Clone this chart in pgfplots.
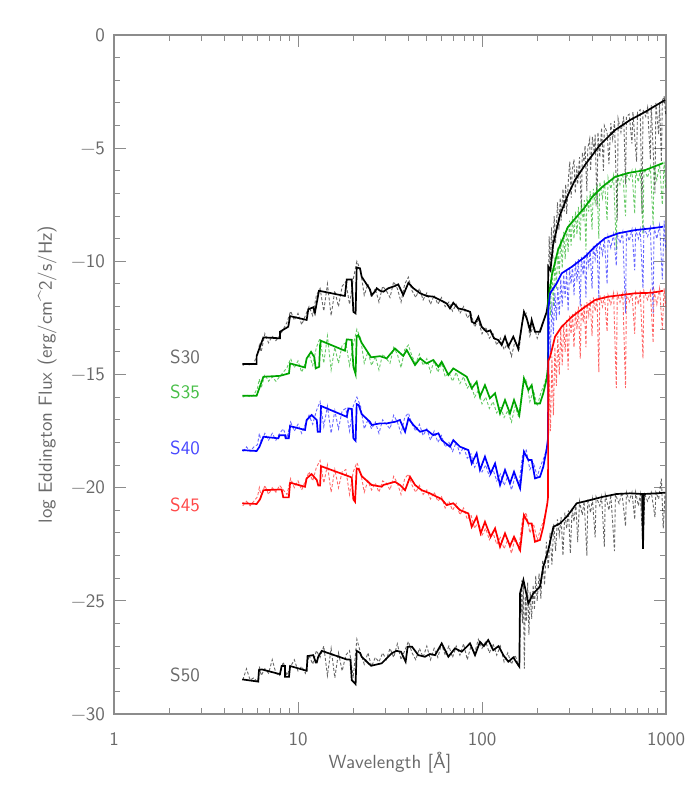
\documentclass[border=0pt]{standalone}
\usepackage{fontspec}
\usepackage{pgfplots}
\pgfplotsset{compat=1.18}
\definecolor{axisgray}{RGB}{140,140,140}
\definecolor{textgray}{RGB}{105,105,105}
\definecolor{mygreen}{RGB}{0,165,0}
\definecolor{myblue}{RGB}{0,0,255}
\definecolor{myred}{RGB}{255,0,0}
\definecolor{lgreen}{RGB}{70,190,70}
\definecolor{lblue}{RGB}{70,70,255}
\definecolor{lred}{RGB}{255,70,70}
\begin{document}
\begin{tikzpicture}
\useasboundingbox (-57pt,-36pt) rectangle (293pt,357pt);
\begin{axis}[
  at={(0,0)}, anchor=south west,
  scale only axis, width=276pt, height=339.5pt,
  xmin=0, xmax=3, ymin=-30, ymax=0,
  xtick={0,1,2,3}, xticklabels={1,10,100,1000},
  minor xtick={0.301,0.477,0.602,0.699,0.778,0.845,0.903,0.954,1.301,1.477,1.602,1.699,1.778,1.845,1.903,1.954,2.301,2.477,2.602,2.699,2.778,2.845,2.903,2.954},
  ytick={-30,-25,-20,-15,-10,-5,0},
  yticklabels={−30,−25,−20,−15,−10,−5,0},
  minor ytick={-29,-28,-27,-26,-24,-23,-22,-21,-19,-18,-17,-16,-14,-13,-12,-11,-9,-8,-7,-6,-4,-3,-2,-1},
  tick align=inside,
  major tick length=6pt, minor tick length=3pt,
  axis line style={draw=axisgray, line width=0.6pt},
  every tick/.style={axisgray, line width=0.5pt},
  ticklabel style={font=\sffamily\fontsize{9.5}{11}\selectfont, text=textgray},
  xticklabel style={yshift=-6pt},
  yticklabel style={xshift=-1pt},
  every axis x label/.style={at={(axis description cs:0.5,-0.072)}, anchor=center, font=\sffamily\fontsize{9.5}{11}\selectfont, text=textgray},
  every axis y label/.style={at={(axis description cs:-0.121,0.5)}, rotate=90, anchor=center, font=\sffamily\fontsize{9.5}{11}\selectfont, text=textgray},
  xlabel={Wavelength [Å]},
  ylabel={log Eddington Flux (erg/cm\textasciicircum 2/s/Hz)},
  solidl/.style={line width=0.85pt},
  dsh/.style={line width=0.45pt, dash pattern=on 1.5pt off 1pt, opacity=0.6},
]
% ---------- S30 ----------
\addplot[dsh, black] coordinates {(0.70,-14.6)(0.72,-14.5)(0.74,-14.6)(0.76,-14.5)(0.78,-14.1)(0.79,-13.7)(0.80,-14.0)(0.82,-13.2)(0.84,-13.6)(0.86,-13.3)(0.88,-13.5)(0.90,-13.3)(0.92,-13.0)(0.94,-12.7)(0.96,-12.2)(0.98,-12.6)(1.00,-12.3)(1.02,-12.8)(1.04,-12.4)(1.06,-12.0)(1.08,-12.4)(1.10,-11.5)(1.12,-11.2)(1.14,-12.2)(1.16,-11.0)(1.18,-12.4)(1.20,-11.3)(1.22,-12.0)(1.24,-11.1)(1.26,-10.9)(1.28,-11.9)(1.30,-10.8)(1.32,-10.0)(1.34,-10.4)(1.36,-11.5)(1.38,-11.0)(1.40,-11.6)(1.42,-11.2)(1.44,-11.8)(1.46,-11.1)(1.48,-11.3)(1.50,-11.6)(1.52,-10.9)(1.54,-11.2)(1.56,-11.8)(1.58,-11.0)(1.60,-10.7)(1.62,-11.3)(1.64,-11.6)(1.66,-11.2)(1.68,-11.7)(1.70,-11.4)(1.72,-11.9)(1.74,-11.5)(1.76,-11.9)(1.78,-11.6)(1.80,-12.0)(1.82,-11.8)(1.84,-12.2)(1.86,-11.9)(1.88,-12.3)(1.90,-12.0)(1.92,-12.5)(1.94,-12.3)(1.96,-12.9)(1.98,-12.6)(2.00,-13.2)(2.02,-12.9)(2.04,-13.4)(2.06,-13.2)(2.08,-13.7)(2.10,-13.4)(2.12,-13.9)(2.14,-13.6)(2.16,-14.2)(2.18,-13.5)(2.20,-14.0)(2.22,-12.6)(2.24,-12.3)(2.26,-13.3)(2.28,-12.8)(2.30,-13.4)(2.32,-12.9)(2.34,-12.5)(2.355,-12.0)};
\addplot[dsh, black] coordinates {(2.360,-11.8)(2.365,-8.9)(2.370,-10.4)(2.378,-8.5)(2.385,-9.9)(2.392,-8.0)(2.40,-9.2)(2.41,-7.4)(2.418,-8.6)(2.425,-7.2)(2.43,-8.2)(2.44,-6.8)(2.447,-7.8)(2.455,-6.6)(2.46,-7.9)(2.47,-6.3)(2.477,-5.6)(2.485,-7.2)(2.49,-6.0)(2.50,-5.5)(2.507,-7.0)(2.515,-5.8)(2.52,-6.6)(2.53,-5.4)(2.54,-7.8)(2.545,-5.2)(2.555,-5.6)(2.56,-4.9)(2.57,-6.9)(2.575,-5.0)(2.585,-4.6)(2.59,-6.0)(2.60,-4.5)(2.61,-5.2)(2.615,-4.4)(2.625,-7.6)(2.63,-4.3)(2.64,-5.4)(2.65,-4.1)(2.66,-6.0)(2.665,-4.0)(2.68,-4.3)(2.69,-5.7)(2.70,-3.9)(2.71,-4.6)(2.72,-3.8)(2.735,-8.2)(2.74,-3.7)(2.755,-4.3)(2.77,-3.6)(2.78,-6.6)(2.785,-3.6)(2.80,-3.5)(2.815,-4.8)(2.82,-3.4)(2.84,-5.6)(2.845,-3.4)(2.86,-3.3)(2.87,-7.9)(2.875,-3.3)(2.89,-3.6)(2.90,-3.2)(2.915,-5.5)(2.92,-3.1)(2.94,-7.0)(2.945,-3.0)(2.96,-4.4)(2.965,-3.0)(2.975,-5.6)(2.98,-2.9)(2.99,-2.7)(2.998,-3.5)};
\addplot[solidl, black] coordinates {(0.697,-14.54)(0.775,-14.54)(0.775,-14.19)(0.812,-13.36)(0.902,-13.40)(0.902,-13.11)(0.947,-12.89)(0.957,-12.42)(1.047,-12.59)(1.056,-12.12)(1.083,-12.03)(1.092,-12.27)(1.114,-11.30)(1.255,-11.53)(1.265,-10.80)(1.292,-10.80)(1.301,-12.23)(1.313,-12.30)(1.319,-10.27)(1.337,-10.31)(1.346,-10.68)(1.391,-11.24)(1.400,-11.49)(1.418,-11.34)(1.428,-11.19)(1.446,-11.30)(1.464,-11.34)(1.491,-11.19)(1.527,-11.09)(1.545,-11.02)(1.572,-11.49)(1.600,-10.95)(1.627,-11.19)(1.663,-11.41)(1.699,-11.53)(1.735,-11.56)(1.772,-11.71)(1.808,-11.86)(1.826,-12.08)(1.844,-11.83)(1.871,-12.08)(1.908,-12.15)(1.935,-12.23)(1.944,-12.67)(1.962,-12.74)(1.980,-12.45)(1.998,-12.89)(2.025,-13.11)(2.045,-13.05)(2.065,-13.40)(2.089,-13.48)(2.107,-13.70)(2.125,-13.33)(2.143,-13.77)(2.170,-13.33)(2.197,-13.85)(2.228,-12.23)(2.243,-12.52)(2.261,-13.04)(2.270,-12.59)(2.288,-13.11)(2.315,-13.11)(2.333,-12.67)(2.352,-12.23)(2.358,-11.86)(2.360,-10.24)(2.372,-10.40)(2.386,-9.28)(2.424,-7.95)(2.467,-7.07)(2.505,-6.41)(2.560,-5.74)(2.641,-4.86)(2.723,-4.20)(2.804,-3.76)(2.886,-3.40)(2.995,-2.87)};
% ---------- S35 ----------
\addplot[dsh, mygreen] coordinates {(0.70,-16.0)(0.72,-15.9)(0.74,-16.0)(0.76,-15.9)(0.78,-15.6)(0.79,-15.2)(0.80,-15.6)(0.82,-15.0)(0.84,-15.3)(0.86,-15.1)(0.88,-15.3)(0.90,-15.1)(0.92,-14.9)(0.94,-14.7)(0.96,-14.3)(0.98,-14.7)(1.00,-14.4)(1.02,-14.9)(1.04,-14.5)(1.06,-14.1)(1.08,-14.6)(1.10,-13.8)(1.12,-13.4)(1.14,-14.5)(1.16,-13.3)(1.18,-14.8)(1.20,-13.8)(1.22,-14.5)(1.24,-13.7)(1.26,-13.6)(1.28,-14.6)(1.30,-13.7)(1.32,-13.0)(1.34,-13.4)(1.36,-14.5)(1.38,-14.0)(1.40,-14.6)(1.42,-14.2)(1.44,-14.8)(1.46,-14.1)(1.48,-14.3)(1.50,-14.5)(1.52,-13.8)(1.54,-14.1)(1.56,-14.7)(1.58,-13.9)(1.60,-13.7)(1.62,-14.2)(1.64,-14.5)(1.66,-14.1)(1.68,-14.6)(1.70,-14.3)(1.72,-14.9)(1.74,-14.4)(1.76,-14.9)(1.78,-14.5)(1.80,-15.1)(1.82,-14.9)(1.84,-15.3)(1.86,-14.9)(1.88,-15.4)(1.90,-15.1)(1.92,-15.6)(1.94,-15.4)(1.96,-16.0)(1.98,-15.7)(2.00,-16.3)(2.02,-16.0)(2.04,-16.5)(2.06,-16.2)(2.08,-16.7)(2.10,-16.4)(2.12,-16.9)(2.14,-16.6)(2.16,-17.1)(2.18,-16.4)(2.20,-16.9)(2.22,-15.5)(2.24,-15.2)(2.26,-16.2)(2.28,-15.7)(2.30,-16.4)(2.32,-15.8)(2.34,-15.4)(2.355,-14.9)};
\addplot[dsh, mygreen] coordinates {(2.360,-13.5)(2.365,-11.0)(2.372,-12.4)(2.380,-10.3)(2.388,-12.0)(2.396,-9.8)(2.404,-11.2)(2.412,-9.4)(2.420,-10.6)(2.428,-9.0)(2.436,-10.3)(2.444,-8.7)(2.452,-9.9)(2.460,-8.5)(2.468,-9.6)(2.476,-8.2)(2.484,-9.3)(2.492,-8.0)(2.500,-9.0)(2.508,-7.8)(2.516,-8.8)(2.524,-7.6)(2.534,-9.1)(2.540,-7.4)(2.550,-8.2)(2.556,-7.3)(2.565,-9.5)(2.570,-7.1)(2.580,-7.8)(2.588,-6.9)(2.598,-8.6)(2.605,-6.8)(2.615,-7.4)(2.625,-6.6)(2.635,-9.0)(2.640,-6.5)(2.655,-7.2)(2.665,-6.4)(2.680,-8.2)(2.685,-6.3)(2.700,-6.8)(2.715,-6.2)(2.730,-9.5)(2.735,-6.2)(2.750,-6.6)(2.765,-6.1)(2.780,-8.0)(2.785,-6.1)(2.800,-6.4)(2.815,-6.0)(2.830,-7.9)(2.835,-6.0)(2.850,-6.5)(2.860,-5.9)(2.875,-8.8)(2.880,-5.9)(2.900,-6.3)(2.915,-5.8)(2.930,-8.4)(2.935,-5.8)(2.950,-6.4)(2.965,-5.7)(2.980,-7.5)(2.990,-5.6)(2.998,-6.8)};
\addplot[solidl, mygreen] coordinates {(0.697,-15.94)(0.775,-15.94)(0.812,-15.10)(0.902,-15.06)(0.951,-14.95)(0.957,-14.51)(1.038,-14.69)(1.047,-14.29)(1.071,-14.00)(1.089,-14.24)(1.096,-14.73)(1.115,-14.66)(1.120,-13.70)(1.125,-13.51)(1.255,-13.95)(1.265,-13.45)(1.292,-13.47)(1.301,-14.66)(1.313,-14.98)(1.319,-13.30)(1.328,-13.26)(1.346,-13.60)(1.397,-14.24)(1.446,-14.19)(1.482,-14.29)(1.527,-13.85)(1.572,-14.18)(1.591,-13.92)(1.636,-14.58)(1.663,-14.29)(1.699,-14.51)(1.735,-14.36)(1.763,-14.66)(1.781,-14.44)(1.817,-15.02)(1.844,-14.73)(1.917,-15.10)(1.944,-15.61)(1.971,-15.32)(1.989,-15.98)(2.016,-15.47)(2.043,-16.05)(2.071,-15.83)(2.098,-16.72)(2.125,-16.13)(2.152,-16.72)(2.174,-16.13)(2.203,-16.79)(2.228,-15.17)(2.252,-15.69)(2.270,-15.47)(2.288,-16.28)(2.315,-16.28)(2.333,-15.83)(2.352,-15.17)(2.359,-14.6)(2.360,-11.70)(2.380,-10.60)(2.413,-9.50)(2.467,-8.48)(2.560,-7.60)(2.598,-7.16)(2.652,-6.72)(2.723,-6.27)(2.793,-6.10)(2.886,-5.97)(2.984,-5.66)};
% ---------- S40 ----------
\addplot[dsh, myblue] coordinates {(0.70,-18.4)(0.72,-18.2)(0.74,-18.4)(0.76,-18.2)(0.78,-18.1)(0.79,-17.6)(0.80,-18.0)(0.82,-17.6)(0.84,-17.9)(0.86,-17.6)(0.88,-17.9)(0.90,-17.6)(0.92,-17.4)(0.94,-17.8)(0.96,-17.1)(0.98,-17.5)(1.00,-17.2)(1.02,-17.6)(1.04,-17.2)(1.06,-16.8)(1.08,-17.2)(1.10,-16.6)(1.12,-16.2)(1.14,-17.3)(1.16,-16.4)(1.18,-17.6)(1.20,-16.6)(1.22,-17.4)(1.24,-16.6)(1.26,-16.5)(1.28,-17.5)(1.30,-16.4)(1.32,-16.0)(1.34,-16.4)(1.36,-17.4)(1.38,-17.0)(1.40,-17.4)(1.42,-17.1)(1.44,-17.6)(1.46,-17.0)(1.48,-17.2)(1.50,-17.4)(1.52,-16.8)(1.54,-17.1)(1.56,-17.6)(1.58,-16.9)(1.60,-16.7)(1.62,-17.2)(1.64,-17.5)(1.66,-17.2)(1.68,-17.7)(1.70,-17.4)(1.72,-17.9)(1.74,-17.5)(1.76,-18.0)(1.78,-17.7)(1.80,-18.2)(1.82,-18.0)(1.84,-18.4)(1.86,-18.0)(1.88,-18.5)(1.90,-18.2)(1.92,-18.7)(1.94,-18.5)(1.96,-19.1)(1.98,-18.8)(2.00,-19.3)(2.02,-19.0)(2.04,-19.5)(2.06,-19.2)(2.08,-19.7)(2.10,-19.4)(2.12,-19.9)(2.14,-19.5)(2.16,-20.1)(2.18,-19.5)(2.20,-19.9)(2.22,-18.6)(2.24,-18.3)(2.26,-19.2)(2.28,-18.9)(2.30,-19.5)(2.32,-19.0)(2.34,-18.6)(2.355,-18.2)};
\addplot[dsh, myblue] coordinates {(2.360,-15.0)(2.365,-12.5)(2.372,-14.0)(2.380,-11.8)(2.388,-13.2)(2.396,-11.4)(2.404,-12.6)(2.412,-11.1)(2.420,-12.4)(2.428,-10.8)(2.436,-12.0)(2.444,-10.6)(2.452,-11.6)(2.460,-10.4)(2.468,-12.2)(2.476,-10.3)(2.484,-11.0)(2.492,-10.2)(2.500,-11.5)(2.508,-10.0)(2.516,-10.9)(2.524,-9.9)(2.534,-12.0)(2.540,-9.8)(2.550,-10.6)(2.556,-9.7)(2.565,-11.6)(2.570,-9.6)(2.580,-10.2)(2.588,-9.5)(2.598,-11.2)(2.605,-9.3)(2.615,-9.9)(2.625,-9.2)(2.635,-11.7)(2.640,-9.1)(2.655,-9.7)(2.665,-9.0)(2.680,-11.0)(2.685,-8.9)(2.700,-9.4)(2.715,-8.8)(2.730,-10.2)(2.735,-8.8)(2.750,-9.2)(2.765,-8.7)(2.780,-12.3)(2.785,-8.7)(2.800,-9.1)(2.815,-8.6)(2.830,-10.4)(2.835,-8.6)(2.850,-9.0)(2.860,-8.6)(2.875,-11.2)(2.880,-8.5)(2.900,-8.9)(2.915,-8.5)(2.930,-12.3)(2.935,-8.5)(2.950,-9.0)(2.965,-8.4)(2.980,-10.8)(2.990,-8.2)(2.998,-9.5)};
\addplot[solidl, myblue] coordinates {(0.697,-18.34)(0.775,-18.38)(0.790,-18.2)(0.812,-17.75)(0.893,-17.82)(0.900,-17.68)(0.929,-17.68)(0.933,-17.82)(0.950,-17.82)(0.957,-17.28)(1.038,-17.45)(1.047,-17.01)(1.074,-16.79)(1.102,-17.01)(1.107,-17.53)(1.120,-17.53)(1.125,-16.39)(1.265,-16.87)(1.274,-16.50)(1.292,-16.52)(1.301,-17.82)(1.313,-17.93)(1.319,-16.31)(1.330,-16.35)(1.346,-16.75)(1.391,-17.09)(1.400,-17.23)(1.446,-17.16)(1.482,-17.16)(1.527,-17.09)(1.554,-17.01)(1.582,-17.53)(1.600,-16.94)(1.627,-17.23)(1.663,-17.53)(1.699,-17.45)(1.735,-17.68)(1.763,-17.60)(1.781,-17.90)(1.826,-18.19)(1.844,-17.90)(1.880,-18.19)(1.926,-18.34)(1.944,-18.93)(1.971,-18.48)(1.989,-19.22)(2.016,-18.63)(2.047,-19.37)(2.071,-18.93)(2.098,-19.88)(2.125,-19.22)(2.152,-19.81)(2.174,-19.30)(2.207,-20.03)(2.228,-18.41)(2.252,-18.78)(2.270,-18.78)(2.288,-19.59)(2.315,-19.52)(2.333,-19.08)(2.352,-18.26)(2.359,-17.8)(2.360,-12.15)(2.370,-11.41)(2.406,-10.97)(2.433,-10.53)(2.488,-10.24)(2.560,-9.80)(2.614,-9.35)(2.668,-8.98)(2.741,-8.76)(2.832,-8.62)(2.922,-8.54)(2.985,-8.47)};
% ---------- S45 ----------
\addplot[dsh, myred] coordinates {(0.70,-20.8)(0.72,-20.6)(0.74,-20.8)(0.76,-20.6)(0.78,-20.4)(0.79,-20.0)(0.80,-20.4)(0.82,-19.9)(0.84,-20.3)(0.86,-20.0)(0.88,-20.2)(0.90,-19.9)(0.92,-20.1)(0.94,-20.3)(0.96,-19.6)(0.98,-20.0)(1.00,-19.7)(1.02,-20.1)(1.04,-19.7)(1.06,-19.3)(1.08,-19.7)(1.10,-19.1)(1.12,-18.8)(1.14,-19.8)(1.16,-19.0)(1.18,-20.2)(1.20,-19.2)(1.22,-20.0)(1.24,-19.3)(1.26,-19.2)(1.28,-20.3)(1.30,-19.3)(1.32,-18.9)(1.34,-19.3)(1.36,-20.2)(1.38,-19.7)(1.40,-20.1)(1.42,-19.8)(1.44,-20.2)(1.46,-19.7)(1.48,-19.8)(1.50,-20.1)(1.52,-19.5)(1.54,-19.8)(1.56,-20.3)(1.58,-19.6)(1.60,-19.4)(1.62,-19.9)(1.64,-20.2)(1.66,-19.9)(1.68,-20.3)(1.70,-20.1)(1.72,-20.5)(1.74,-20.2)(1.76,-20.6)(1.78,-20.4)(1.80,-20.9)(1.82,-20.6)(1.84,-21.0)(1.86,-20.7)(1.88,-21.2)(1.90,-20.9)(1.92,-21.4)(1.94,-21.2)(1.96,-21.8)(1.98,-21.5)(2.00,-22.1)(2.02,-21.8)(2.04,-22.3)(2.06,-22.0)(2.08,-22.5)(2.10,-22.2)(2.12,-22.7)(2.14,-22.3)(2.16,-22.9)(2.18,-22.2)(2.20,-22.7)(2.22,-21.4)(2.24,-21.1)(2.26,-22.0)(2.28,-21.6)(2.30,-22.3)(2.32,-21.8)(2.34,-21.3)(2.355,-20.8)};
\addplot[dsh, myred] coordinates {(2.360,-19.0)(2.365,-15.0)(2.372,-17.5)(2.380,-14.2)(2.388,-16.8)(2.396,-13.8)(2.404,-15.5)(2.412,-13.3)(2.420,-15.0)(2.428,-13.0)(2.436,-14.6)(2.444,-12.8)(2.452,-14.0)(2.460,-12.6)(2.468,-14.8)(2.476,-12.4)(2.484,-13.2)(2.492,-12.3)(2.500,-13.8)(2.508,-12.2)(2.516,-13.0)(2.524,-12.0)(2.534,-14.3)(2.540,-11.9)(2.550,-12.7)(2.556,-11.9)(2.565,-13.8)(2.570,-11.8)(2.580,-12.4)(2.588,-11.7)(2.598,-13.3)(2.605,-11.6)(2.615,-12.2)(2.625,-11.6)(2.635,-14.9)(2.640,-11.5)(2.655,-12.0)(2.665,-11.5)(2.680,-13.1)(2.685,-11.5)(2.700,-11.9)(2.715,-11.4)(2.730,-15.6)(2.735,-11.4)(2.750,-11.8)(2.765,-11.4)(2.780,-15.6)(2.785,-11.4)(2.800,-11.8)(2.815,-11.4)(2.830,-13.2)(2.835,-11.4)(2.850,-11.9)(2.860,-11.3)(2.875,-14.3)(2.880,-11.3)(2.900,-11.7)(2.915,-11.3)(2.930,-13.6)(2.935,-11.3)(2.950,-11.9)(2.965,-11.2)(2.980,-13.0)(2.990,-11.2)(2.998,-12.0)};
\addplot[solidl, myred] coordinates {(0.697,-20.69)(0.775,-20.72)(0.793,-20.52)(0.812,-20.11)(0.911,-20.08)(0.920,-20.43)(0.950,-20.43)(0.957,-19.78)(1.038,-19.96)(1.047,-19.59)(1.074,-19.40)(1.102,-19.66)(1.110,-19.90)(1.120,-19.90)(1.125,-19.05)(1.283,-19.52)(1.292,-19.55)(1.301,-20.52)(1.310,-20.62)(1.319,-19.15)(1.330,-19.18)(1.346,-19.49)(1.400,-19.88)(1.455,-19.96)(1.464,-19.88)(1.527,-19.74)(1.554,-19.88)(1.582,-20.11)(1.609,-19.52)(1.636,-19.88)(1.672,-20.11)(1.717,-20.25)(1.754,-20.40)(1.780,-20.50)(1.808,-20.77)(1.844,-20.69)(1.880,-20.99)(1.926,-21.14)(1.944,-21.73)(1.971,-21.29)(1.993,-22.02)(2.016,-21.51)(2.047,-22.17)(2.071,-21.80)(2.098,-22.61)(2.125,-22.02)(2.152,-22.58)(2.174,-22.17)(2.207,-22.76)(2.228,-21.21)(2.252,-21.58)(2.270,-21.58)(2.288,-22.39)(2.315,-22.31)(2.333,-21.73)(2.355,-20.69)(2.359,-20.4)(2.360,-14.40)(2.370,-14.22)(2.397,-13.33)(2.433,-12.89)(2.488,-12.45)(2.560,-12.01)(2.614,-11.71)(2.686,-11.56)(2.759,-11.49)(2.832,-11.41)(2.922,-11.39)(2.985,-11.30)};
% ---------- S50 ----------
\addplot[dsh, black] coordinates {(0.70,-28.5)(0.72,-28.0)(0.74,-28.5)(0.76,-28.4)(0.78,-28.6)(0.79,-27.9)(0.80,-28.3)(0.82,-28.0)(0.84,-28.2)(0.86,-27.6)(0.88,-28.2)(0.90,-28.3)(0.92,-27.7)(0.94,-28.3)(0.96,-27.9)(0.98,-27.6)(1.00,-28.1)(1.02,-27.9)(1.04,-28.2)(1.06,-27.4)(1.08,-27.8)(1.10,-27.2)(1.12,-27.5)(1.14,-27.0)(1.16,-28.3)(1.18,-27.1)(1.20,-28.4)(1.22,-27.3)(1.24,-28.1)(1.26,-27.4)(1.28,-27.2)(1.30,-28.4)(1.32,-26.7)(1.34,-27.3)(1.36,-27.8)(1.38,-27.3)(1.40,-27.9)(1.42,-27.5)(1.44,-27.7)(1.46,-27.3)(1.48,-27.6)(1.50,-27.1)(1.52,-27.5)(1.54,-26.9)(1.56,-27.6)(1.58,-27.2)(1.60,-26.8)(1.62,-27.3)(1.64,-27.6)(1.66,-27.1)(1.68,-27.5)(1.70,-27.0)(1.72,-27.6)(1.74,-27.1)(1.76,-27.5)(1.78,-26.9)(1.80,-27.4)(1.82,-27.0)(1.84,-27.5)(1.86,-27.0)(1.88,-27.4)(1.90,-26.9)(1.92,-27.6)(1.94,-27.0)(1.96,-27.3)(1.98,-26.7)(2.00,-27.1)(2.02,-26.8)(2.04,-27.3)(2.06,-26.9)(2.08,-27.4)(2.10,-27.0)(2.12,-27.7)(2.14,-27.3)(2.16,-27.8)(2.18,-27.4)(2.20,-27.9)};
\addplot[dsh, black] coordinates {(2.205,-27.5)(2.208,-24.5)(2.212,-25.6)(2.216,-24.1)(2.220,-26.0)(2.225,-24.3)(2.230,-28.0)(2.236,-24.8)(2.242,-25.9)(2.248,-24.2)(2.255,-26.5)(2.262,-24.6)(2.270,-25.8)(2.278,-24.3)(2.285,-25.4)(2.292,-23.9)(2.300,-25.0)(2.310,-23.8)(2.320,-24.9)(2.330,-23.2)(2.340,-24.3)(2.350,-22.4)(2.360,-23.6)(2.370,-22.0)(2.380,-23.4)(2.390,-21.6)(2.400,-22.8)(2.410,-21.4)(2.420,-22.1)(2.430,-21.3)(2.440,-23.0)(2.450,-21.1)(2.460,-21.8)(2.470,-21.0)(2.480,-22.9)(2.490,-20.9)(2.500,-21.5)(2.510,-20.7)(2.520,-22.4)(2.530,-20.6)(2.545,-21.2)(2.555,-20.6)(2.570,-23.0)(2.575,-20.5)(2.590,-21.1)(2.600,-20.5)(2.615,-22.2)(2.620,-20.4)(2.640,-20.8)(2.650,-20.4)(2.665,-22.6)(2.670,-20.3)(2.690,-21.0)(2.700,-20.3)(2.720,-22.8)(2.725,-20.3)(2.745,-20.7)(2.760,-20.2)(2.780,-21.7)(2.785,-20.2)(2.800,-20.6)(2.815,-20.2)(2.830,-21.4)(2.835,-20.2)(2.850,-20.8)(2.860,-20.3)(2.875,-22.6)(2.885,-20.3)(2.900,-20.6)(2.920,-20.2)(2.940,-21.3)(2.945,-20.2)(2.960,-20.5)(2.975,-19.6)(2.985,-21.8)(2.995,-20.2)};
\addplot[solidl, black] coordinates {(0.697,-28.47)(0.784,-28.57)(0.788,-28.06)(0.803,-28.03)(0.902,-28.24)(0.911,-27.88)(0.929,-27.88)(0.929,-28.36)(0.951,-28.36)(0.957,-27.88)(1.047,-28.09)(1.052,-27.44)(1.083,-27.40)(1.097,-27.73)(1.102,-27.73)(1.110,-27.47)(1.129,-27.21)(1.265,-27.59)(1.285,-27.59)(1.292,-28.50)(1.313,-28.68)(1.319,-27.21)(1.337,-27.30)(1.346,-27.47)(1.397,-27.87)(1.455,-27.76)(1.509,-27.32)(1.536,-27.21)(1.560,-27.25)(1.585,-27.69)(1.596,-27.03)(1.620,-27.03)(1.654,-27.40)(1.690,-27.47)(1.717,-27.35)(1.745,-27.40)(1.781,-26.88)(1.817,-27.47)(1.853,-27.10)(1.890,-27.25)(1.935,-26.88)(1.962,-27.40)(1.989,-26.81)(2.010,-27.00)(2.034,-26.73)(2.061,-27.18)(2.090,-27.00)(2.116,-27.40)(2.143,-27.69)(2.170,-27.50)(2.197,-27.84)(2.203,-27.91)(2.207,-24.67)(2.225,-24.08)(2.252,-25.11)(2.279,-24.67)(2.315,-24.38)(2.333,-23.50)(2.360,-22.76)(2.388,-21.73)(2.424,-21.58)(2.460,-21.29)(2.515,-20.69)(2.587,-20.55)(2.659,-20.40)(2.732,-20.28)(2.804,-20.25)(2.870,-20.28)(2.875,-22.70)(2.880,-20.28)(2.949,-20.25)(2.995,-20.22)};
% ---------- labels ----------
\node[font=\sffamily\fontsize{9.5}{11}\selectfont, text=textgray] at (axis cs:0.386,-14.23) {S30};
\node[font=\sffamily\fontsize{9.5}{11}\selectfont, text=lgreen] at (axis cs:0.386,-15.77) {S35};
\node[font=\sffamily\fontsize{9.5}{11}\selectfont, text=lblue] at (axis cs:0.386,-18.25) {S40};
\node[font=\sffamily\fontsize{9.5}{11}\selectfont, text=lred] at (axis cs:0.386,-20.77) {S45};
\node[font=\sffamily\fontsize{9.5}{11}\selectfont, text=textgray] at (axis cs:0.386,-28.28) {S50};
\end{axis}
\end{tikzpicture}
\end{document}
